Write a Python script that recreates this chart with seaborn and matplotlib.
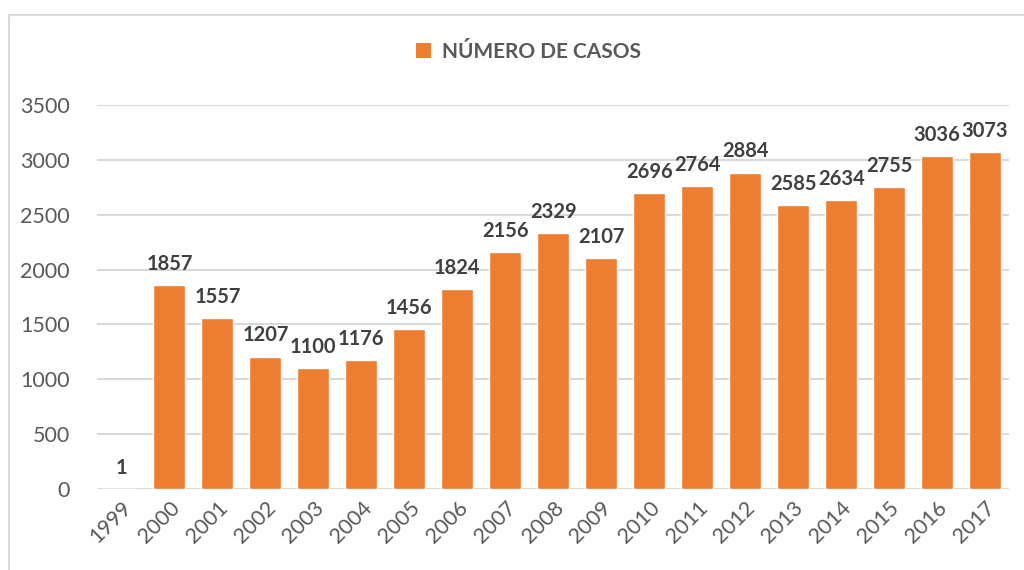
import numpy as np
import pandas as pd
import matplotlib
matplotlib.use("Agg")
import matplotlib.pyplot as plt
from matplotlib.patches import Patch, Rectangle
import seaborn as sns

# data
years = ["1999", "2000", "2001", "2002", "2003", "2004", "2005", "2006", "2007",
         "2008", "2009", "2010", "2011", "2012", "2013", "2014", "2015", "2016", "2017"]
casos = [1, 1857, 1557, 1207, 1100, 1176, 1456, 1824, 2156,
         2329, 2107, 2696, 2764, 2884, 2585, 2634, 2755, 3036, 3073]
series_name = "NÚMERO DE CASOS"
yticks = [0, 500, 1000, 1500, 2000, 2500, 3000, 3500]

ORANGE = "#ED7D31"
GRID = "#D9D9D9"
TICK = "#595959"
LABEL = "#404040"

sns.set_theme(style="white")
plt.rcParams["font.family"] = ["Lato", "DejaVu Sans"]

df = pd.DataFrame({"year": years, "casos": casos})

fig = plt.figure(figsize=(10.24, 5.70), dpi=100)
ax = fig.add_axes([0.0952, 0.1421, 0.8902, 0.6737])

sns.barplot(data=df, x="year", y="casos", order=years, color=ORANGE,
            saturation=1, width=0.667, ax=ax, zorder=3)

ax.set_ylim(0, 3500)
ax.set_xlim(-0.5, len(years) - 0.5)
ax.set_yticks(yticks)
ax.yaxis.grid(True, color=GRID, linewidth=1.5, zorder=0)
ax.set_axisbelow(True)
for s in ax.spines.values():
    s.set_visible(False)
ax.tick_params(axis="both", length=0, colors=TICK, labelsize=15.5)
ax.tick_params(axis="y", pad=20)
ax.tick_params(axis="x", pad=6)
plt.setp(ax.get_xticklabels(), rotation=45, ha="right", rotation_mode="anchor")
ax.set_xlabel("")
ax.set_ylabel("")

# data labels above bars
for i, v in enumerate(casos):
    ax.annotate(str(v), (i, v), xytext=(0, 8), textcoords="offset points",
                ha="center", va="bottom", fontsize=14.5, fontweight="bold",
                color=LABEL)

# legend at the top
handle = Patch(facecolor=ORANGE, edgecolor="none", label=series_name)
fig.legend(handles=[handle], loc="center", bbox_to_anchor=(0.516, 0.909),
           frameon=False, handlelength=0.75, handleheight=0.75, handletextpad=0.5,
           prop={"size": 15, "weight": "bold"}, labelcolor=TICK)

# chart frame (only the left and top edges fall inside the image)
fig.patches.append(Rectangle((9 / 1024, -0.2), 1.2, 1 - 15 / 570 + 0.2,
                             transform=fig.transFigure, fill=False,
                             edgecolor=GRID, linewidth=1.5))

fig.savefig("out.png", dpi=100, facecolor="white")
